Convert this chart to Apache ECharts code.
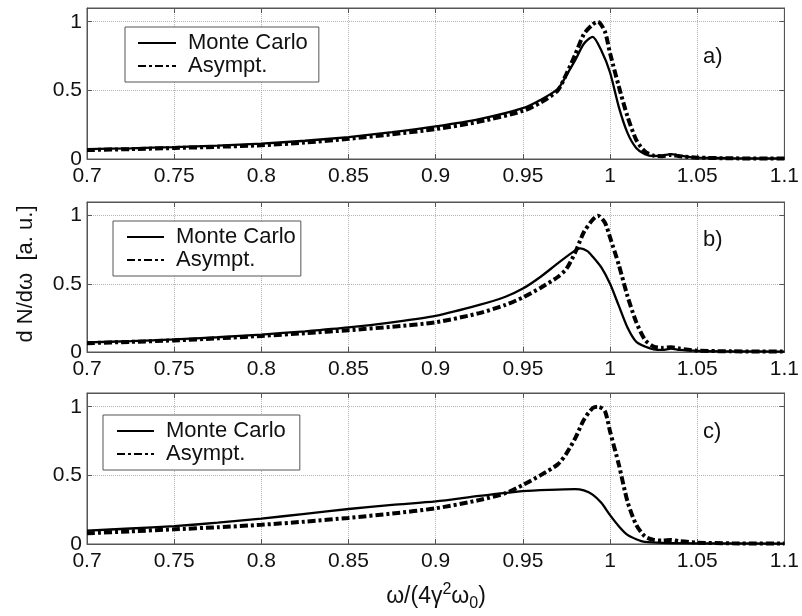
<!DOCTYPE html>
<html><head><meta charset="utf-8">
<script src="https://cdn.jsdelivr.net/npm/echarts@6/dist/echarts.min.js"></script>
<style>html,body{margin:0;padding:0;background:#fff}#c{width:802px;height:616px}</style>
</head><body><div id="c"></div>
<script>
// ---- data ----
const seriesNames = ['Monte Carlo', 'Asympt.'];
const panelLabels = ['a)', 'b)', 'c)'];
const yAxisTitle = 'd N/dω  [a. u.]';

// panel a
const xA_mc = [0.7,0.725,0.75,0.775,0.8,0.825,0.85,0.875,0.9,0.925,0.95,0.96,0.97,0.975,0.98,0.985,0.99,0.995,1.0,1.005,1.01,1.015,1.02,1.025,1.03,1.035,1.04,1.045,1.05,1.07,1.1];
const yA_mc = [0.072,0.078,0.087,0.098,0.112,0.133,0.16,0.195,0.237,0.29,0.37,0.43,0.51,0.61,0.72,0.84,0.89,0.79,0.63,0.38,0.19,0.08,0.035,0.022,0.025,0.035,0.025,0.015,0.01,0.006,0.004];
const xA_as = [0.7,0.725,0.75,0.775,0.8,0.825,0.85,0.875,0.9,0.925,0.95,0.96,0.97,0.975,0.98,0.985,0.99,0.993,0.997,1.0,1.005,1.01,1.015,1.02,1.025,1.03,1.035,1.04,1.05,1.07,1.1];
const yA_as = [0.065,0.072,0.08,0.089,0.10,0.12,0.147,0.18,0.218,0.272,0.35,0.41,0.50,0.62,0.76,0.91,0.98,1.0,0.93,0.77,0.53,0.31,0.14,0.055,0.025,0.02,0.03,0.02,0.01,0.005,0.003];

// panel b
const xB_mc = [0.7,0.725,0.75,0.775,0.8,0.825,0.85,0.875,0.9,0.925,0.94,0.95,0.96,0.97,0.98,0.983,0.987,0.99,0.995,1.0,1.005,1.01,1.015,1.02,1.025,1.03,1.035,1.04,1.05,1.07,1.1];
const yB_mc = [0.07,0.08,0.092,0.108,0.128,0.152,0.18,0.218,0.265,0.345,0.405,0.465,0.55,0.65,0.745,0.76,0.74,0.70,0.62,0.50,0.34,0.18,0.075,0.04,0.02,0.015,0.025,0.015,0.008,0.005,0.003];
const xB_as = [0.7,0.725,0.75,0.775,0.8,0.825,0.85,0.875,0.9,0.925,0.94,0.95,0.96,0.97,0.975,0.98,0.985,0.99,0.993,0.997,1.0,1.005,1.01,1.015,1.02,1.025,1.03,1.035,1.04,1.05,1.07,1.1];
const yB_as = [0.065,0.074,0.085,0.10,0.118,0.138,0.16,0.185,0.218,0.285,0.345,0.40,0.47,0.55,0.61,0.73,0.88,0.97,1.0,0.95,0.84,0.64,0.41,0.22,0.09,0.04,0.03,0.035,0.025,0.01,0.005,0.003];

// panel c
const xC_mc = [0.7,0.725,0.75,0.775,0.8,0.825,0.85,0.875,0.9,0.925,0.95,0.965,0.98,0.985,0.99,0.995,1.0,1.005,1.01,1.015,1.02,1.03,1.05,1.1];
const yC_mc = [0.097,0.113,0.13,0.155,0.185,0.22,0.255,0.285,0.31,0.35,0.385,0.395,0.40,0.39,0.36,0.30,0.21,0.13,0.066,0.035,0.015,0.008,0.005,0.003];
const xC_as = [0.7,0.725,0.75,0.775,0.8,0.825,0.85,0.875,0.9,0.925,0.94,0.95,0.96,0.97,0.975,0.98,0.985,0.99,0.993,0.997,1.0,1.005,1.01,1.015,1.02,1.025,1.03,1.035,1.04,1.05,1.07,1.1];
const yC_as = [0.078,0.092,0.107,0.122,0.14,0.163,0.19,0.222,0.26,0.32,0.37,0.43,0.50,0.58,0.66,0.77,0.905,0.99,1.0,0.97,0.82,0.58,0.31,0.14,0.055,0.03,0.025,0.03,0.02,0.01,0.005,0.003];

const panels = [
  {mc: [xA_mc, yA_mc], as: [xA_as, yA_as]},
  {mc: [xB_mc, yB_mc], as: [xB_as, yB_as]},
  {mc: [xC_mc, yC_mc], as: [xC_as, yC_as]}
];

// ---- layout / style ----
const FONT = '"Liberation Sans", Arial, sans-serif';
const gridPos = [{top: 8, height: 151}, {top: 202, height: 150}, {top: 393, height: 151}];
const legendPos = [
  {left: 125, top: 27, padding: [5, 11, 5, 12], itemWidth: 38},
  {left: 113, top: 221, padding: [5, 5, 5, 13], itemWidth: 37},
  {left: 103, top: 415, padding: [5, 14, 5, 13], itemWidth: 37}
];
const labelPos = [57, 240, 432];
const FRAME = '#555';
const GRIDC = '#b5b5b5';

const zip = (xs, ys) => xs.map((x, i) => [x, ys[i]]);

const grid = [], xAxis = [], yAxis = [], series = [], legend = [], graphic = [];
panels.forEach((p, i) => {
  grid.push({left: 87, width: 700, top: gridPos[i].top, height: gridPos[i].height,
    show: true, borderColor: FRAME, borderWidth: 1, backgroundColor: '#fff'});
  const xBase = {type: 'value', gridIndex: i, min: 0.7, max: 1.1, interval: 0.05,
    axisLine: {show: true, onZero: false, lineStyle: {color: FRAME, width: 1}},
    axisTick: {show: true, inside: true, length: 5, lineStyle: {color: FRAME}}};
  xAxis.push(Object.assign({}, xBase, {position: 'bottom',
    axisLabel: {show: true, margin: 7, color: '#111', fontSize: 21, fontFamily: FONT,
      formatter: v => String(+v.toFixed(2))},
    splitLine: {show: true, lineStyle: {type: 'dotted', color: GRIDC, width: 1}}}));
  xAxis.push(Object.assign({}, xBase, {position: 'top', axisLabel: {show: false}, splitLine: {show: false}}));
  const yBase = {type: 'value', gridIndex: i, min: 0, max: 1.1, interval: 0.5,
    axisLine: {show: true, onZero: false, lineStyle: {color: FRAME, width: 1}},
    axisTick: {show: true, inside: true, length: 5, lineStyle: {color: FRAME}}};
  yAxis.push(Object.assign({}, yBase, {position: 'left',
    axisLabel: {show: true, margin: 5, color: '#111', fontSize: 21, fontFamily: FONT,
      formatter: v => (Math.abs(v * 2 - Math.round(v * 2)) < 1e-6 ? String(+v.toFixed(2)) : '')},
    splitLine: {show: true, lineStyle: {type: 'dotted', color: GRIDC, width: 1}}}));
  yAxis.push(Object.assign({}, yBase, {position: 'right', axisLabel: {show: false}, splitLine: {show: false}}));

  series.push({name: seriesNames[0], type: 'line', xAxisIndex: 2 * i, yAxisIndex: 2 * i,
    data: zip(p.mc[0], p.mc[1]), symbol: 'none', smooth: 0.25,
    lineStyle: {color: '#000', width: 2.3, type: 'solid'}, itemStyle: {color: '#000'}, z: 3});
  series.push({name: seriesNames[1], type: 'line', xAxisIndex: 2 * i, yAxisIndex: 2 * i,
    data: zip(p.as[0], p.as[1]), symbol: 'none', smooth: 0.25,
    lineStyle: {color: '#000', width: 4, type: [8, 3, 3, 3]}, itemStyle: {color: '#000'}, z: 4});

  legend.push({data: seriesNames, orient: 'vertical', left: legendPos[i].left, top: legendPos[i].top,
    padding: legendPos[i].padding, itemGap: 1, itemWidth: legendPos[i].itemWidth, itemHeight: 14,
    backgroundColor: '#fff', borderColor: FRAME, borderWidth: 1, borderRadius: 0,
    selectedMode: false,
    itemStyle: {opacity: 0, borderWidth: 0},
    textStyle: {fontSize: 22, fontFamily: FONT, color: '#111', padding: [0, 0, 0, 7]}});

  graphic.push({type: 'text', x: 703, y: labelPos[i], z: 100,
    style: {text: panelLabels[i], font: '22px ' + FONT, fill: '#111', align: 'left', verticalAlign: 'middle'}});
});

graphic.push({type: 'text', x: 26, y: 274, rotation: Math.PI / 2, z: 100,
  style: {text: yAxisTitle, font: '22px ' + FONT, fill: '#111', align: 'center', verticalAlign: 'middle'}});
graphic.push({type: 'text', x: 436, y: 597, z: 100,
  style: {text: '{m|ω/(4γ}{sup|2}{m|ω}{sub|0}{m|)}', align: 'center', verticalAlign: 'middle', fill: '#111',
    rich: {
      m: {fontSize: 23, fontFamily: FONT, lineHeight: 30, verticalAlign: 'middle', fill: '#111'},
      sup: {fontSize: 16, fontFamily: FONT, lineHeight: 16, verticalAlign: 'top', fill: '#111'},
      sub: {fontSize: 16, fontFamily: FONT, lineHeight: 16, verticalAlign: 'bottom', fill: '#111'}
    }}});

const chart = echarts.init(document.getElementById('c'), null, {renderer: 'canvas'});
chart.setOption({animation: false, backgroundColor: '#fff', grid, xAxis, yAxis, series, legend, graphic});
</script>
</body></html>
